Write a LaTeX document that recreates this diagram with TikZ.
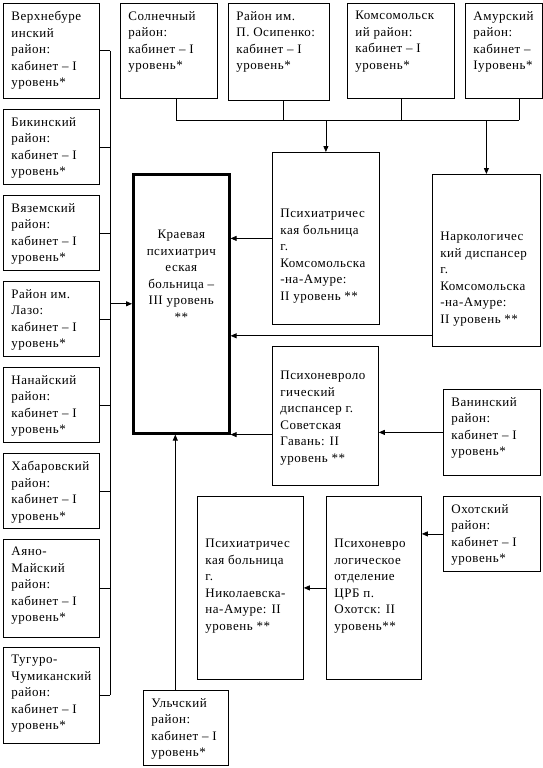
\documentclass[tikz,border=0pt]{standalone}
\usepackage{fontspec}
\setmainfont[LetterSpace=4]{Liberation Serif}
\usepackage{tikz}
\usetikzlibrary{arrows.meta, positioning, calc}

% текст в рамке: ширина, высота, отступ сверху, текст
\newcommand{\boxtext}[4]{\parbox[c][\dimexpr#2pt-16pt\relax][t]{\dimexpr#1pt-16pt\relax}{\vspace*{#3pt}\raggedright #4}}

\begin{document}
\begin{tikzpicture}[x=1pt, y=-1pt,
    unit/.style={draw, line width=0.8pt, anchor=north west, inner sep=8pt,
                 font=\fontsize{13}{16.5}\selectfont},
    arr/.style={line width=0.8pt, -{Triangle[length=6pt,width=5pt]}},
    link/.style={line width=0.8pt}]
        % Рамка всего рисунка
        \useasboundingbox (0,0) rectangle (543,768);

        % Районы слева
        \node[unit] (verkhn) at (3,3) {\boxtext{96}{95}{0}{Верхнебуре\\инский\\район:\\кабинет – I\\уровень*}};
        \node[unit] (bikin) at (3,109) {\boxtext{96}{75}{0}{Бикинский\\район:\\кабинет – I\\уровень*}};
        \node[unit] (vyazem) at (3,195) {\boxtext{96}{75}{0}{Вяземский\\район:\\кабинет – I\\уровень*}};
        \node[unit] (lazo) at (3,281) {\boxtext{96}{75}{0}{Район им.\\Лазо:\\кабинет – I\\уровень*}};
        \node[unit] (nanai) at (3,367) {\boxtext{96}{75}{0}{Нанайский\\район:\\кабинет – I\\уровень*}};
        \node[unit] (khabar) at (3,453) {\boxtext{96}{75}{0}{Хабаровский\\район:\\кабинет – I\\уровень*}};
        \node[unit] (ayano) at (3,539) {\boxtext{96}{98}{0}{Аяно-\\Майский\\район:\\кабинет – I\\уровень*}};
        \node[unit] (tuguro) at (3,647) {\boxtext{96}{96}{0}{Тугуро-\\Чумиканский\\район:\\кабинет – I\\уровень*}};

        % Районы сверху
        \node[unit] (solnech) at (120,3) {\boxtext{97}{95}{0}{Солнечный\\район:\\кабинет – I\\уровень*}};
        \node[unit] (osipenko) at (228,3) {\boxtext{101}{97}{0}{Район им.\\П. Осипенко:\\кабинет – I\\уровень*}};
        \node[unit] (komsom) at (347,3) {\boxtext{107}{95}{0}{Комсомольск\\ий район:\\кабинет – I\\уровень*}};
        \node[unit] (amur) at (465,3) {\boxtext{77}{95}{0}{Амурский\\район:\\кабинет –\\Iуровень*}};

        % Краевая больница (III уровень)
        \node[unit, line width=2.6pt] (kraev) at (132,173) {\boxtext{96}{259}{48}{\centering Краевая\\психиатрич\\еская\\больница –\\III уровень\\***}};

        % Учреждения II уровня
        \node[unit] (psykoms) at (272,152) {\boxtext{107}{172}{49}{Психиатричес\\кая больница\\г.\\Комсомольска\\-на-Амуре:\\II уровень **}};
        \node[unit] (narko) at (432,174) {\boxtext{108}{172}{50}{Наркологичес\\кий диспансер\\г.\\Комсомольска\\-на-Амуре:\\II уровень **}};
        \node[unit] (gavan) at (272,346) {\boxtext{106}{139}{17}{Психоневроло\\гический\\диспансер г.\\Советская\\Гавань: II\\уровень **}};
        \node[unit] (nikol) at (197,496) {\boxtext{106}{183}{35}{Психиатричес\\кая больница\\г.\\Николаевска-\\на-Амуре: II\\уровень **}};
        \node[unit] (okhcrb) at (326,496) {\boxtext{95}{183}{35}{Психоневро\\логическое\\отделение\\ЦРБ п.\\Охотск: II\\уровень**}};

        % Районы справа и снизу
        \node[unit] (vanino) at (443,389) {\boxtext{97}{86}{0}{Ванинский\\район:\\кабинет – I\\уровень*}};
        \node[unit] (okhotsk) at (443,496) {\boxtext{97}{75}{0}{Охотский\\район:\\кабинет – I\\уровень*}};
        \node[unit] (ulchi) at (143,690) {\boxtext{85}{75}{0}{Ульчский\\район:\\кабинет – I\\уровень*}};

        % Шины
        \coordinate (lbus) at (110,0);
        \coordinate (tbus) at (0,120);

        % Левая шина к краевой больнице
        \foreach \r in {verkhn, bikin, vyazem, lazo, nanai, khabar, ayano, tuguro}
            \draw[link] (\r.east) -- (\r.east -| lbus);
        \draw[link] (verkhn.east -| lbus) -- (tuguro.east -| lbus);
        \draw[arr] (kraev.west -| lbus) -- (kraev.west);

        % Верхняя шина
        \draw[link] ([xshift=7pt]solnech.south) -- ([xshift=7pt]solnech.south |- tbus);
        \draw[link] ([xshift=4pt]osipenko.south) -- ([xshift=4pt]osipenko.south |- tbus);
        \draw[link] (komsom.south) -- (komsom.south |- tbus);
        \draw[link] ([xshift=15pt]amur.south) -- ([xshift=15pt]amur.south |- tbus);
        \draw[link] ([xshift=7pt]solnech.south |- tbus) -- ([xshift=15pt]amur.south |- tbus);
        \draw[arr] (psykoms.north |- tbus) -- (psykoms.north);
        \draw[arr] (narko.north |- tbus) -- (narko.north);

        % Связи к краевой больнице
        \draw[arr] (psykoms.west) -- (psykoms.west -| kraev.east);
        \draw[arr] ([yshift=11pt]narko.south west) -- ([yshift=11pt]narko.south west -| kraev.east);
        \draw[arr] (kraev.south east -| gavan.west) -- (kraev.south east);
        \draw[arr] ([xshift=-6pt]kraev.south |- ulchi.north) -- ([xshift=-6pt]kraev.south);

        % Связи районов с учреждениями II уровня
        \draw[arr] (vanino.west) -- (vanino.west -| gavan.east);
        \draw[arr] (okhotsk.west) -- (okhotsk.west -| okhcrb.east);
        \draw[arr] (okhcrb.west) -- (okhcrb.west -| nikol.east);
    \end{tikzpicture}
\end{document}
